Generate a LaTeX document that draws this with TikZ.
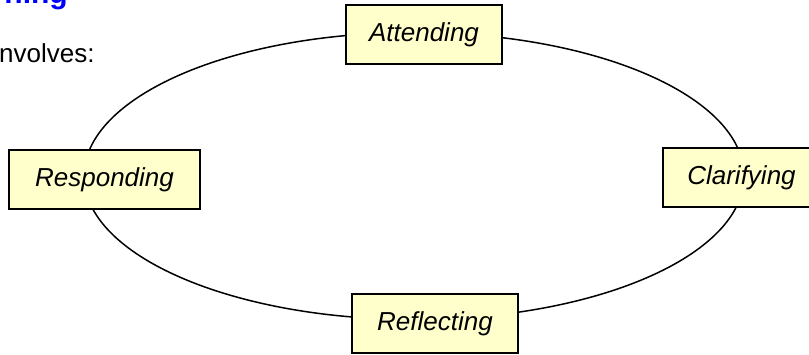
\documentclass[tikz,border=0pt]{standalone}
\usepackage{fontspec}
\setmainfont{Liberation Sans}
\definecolor{boxfill}{HTML}{FFFFCC}
\definecolor{titleblue}{HTML}{0000FF}
\tikzset{
  skill/.style={draw=black, line width=2pt, fill=boxfill, minimum height=59pt,
    inner sep=0pt, font=\fontsize{26}{30}\selectfont\itshape},
  cycle/.style={draw=black, line width=1.5pt},
  plain/.style={inner sep=0pt, font=\fontsize{26}{30}\selectfont},
  titletext/.style={inner sep=0pt, text=titleblue, font=\fontsize{30}{34}\selectfont\bfseries}
}
\begin{document}
\begin{tikzpicture}[x=1pt,y=-1pt]
\useasboundingbox (0,0) rectangle (809,354);
\draw[cycle] (414,176) ellipse [x radius=330, y radius=143.5];
\node[titletext, anchor=base east] (title) at (68,3) {ning};
\node[plain, anchor=base west] (intro) at (-1,62.5) {nvolves:};
\node[skill, minimum width=156pt] (att) at (424,34.5) {Attending};
\node[skill, minimum width=191pt] (resp) at (104.5,179.5) {Responding};
\node[skill, minimum width=157pt] (clar) at (741.5,177.5) {Clarifying};
\node[skill, minimum width=166pt] (refl) at (435,323.5) {Reflecting};
\end{tikzpicture}
\end{document}
